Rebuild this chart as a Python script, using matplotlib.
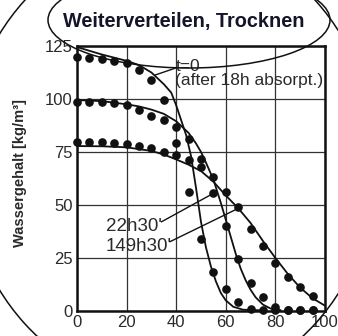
"""
Weiterverteilen, Trocknen: Wassergehaltsprofile (Messpunkte + Rechnung).
"""

import matplotlib
matplotlib.use("Agg")
import matplotlib.pyplot as plt
from matplotlib.patches import Ellipse

plt.rcParams["font.family"] = ["Liberation Sans", "DejaVu Sans"]

# ---------------------------------------------------------------------------
# Daten
# ---------------------------------------------------------------------------
titel = "Weiterverteilen, Trocknen"
y_titel = "Wassergehalt [kg/m³]"
x_ticks = [0, 20, 40, 60, 80, 100]
y_ticks = [0, 25, 50, 75, 100, 125]

x_mess = [0, 5, 10, 15, 20, 25, 30, 35, 40, 45, 50, 55, 60, 65, 70, 75, 80, 85, 90, 95]
mess_t0 = [119.7, 119.2, 118.7, 117.9, 116.8, 113.7, 109.0, 99.5, 79.4, 56.3,
           33.8, 18.5, 10.5, 4.4, 1.0, 0.5, 0.3, 0.5, 0.5, 0.5]
mess_22h = [98.7, 98.7, 98.4, 98.0, 97.2, 94.8, 92.0, 90.0, 86.6, 81.0,
            71.5, 55.5, 40.1, 24.4, 13.0, 6.8, 2.0, 0.5, 0.5, 0.5]
mess_149h = [79.9, 79.9, 79.9, 79.4, 79.0, 77.8, 76.7, 75.0, 73.4, 71.0,
             67.8, 63.0, 56.0, 48.9, 38.8, 30.5, 22.5, 16.2, 11.3, 6.9]

x_rech_t0 = [0, 10, 20, 25, 30, 35, 38, 40, 42, 44, 46, 48, 50, 52, 54, 56, 58, 60, 63, 67, 75]
rech_t0 = [124.5, 121.0, 118.0, 116.0, 112.5, 107.0, 103.0, 97.0, 90.0, 83.0, 73.0,
           58.0, 42.0, 30.0, 21.0, 14.0, 8.5, 5.0, 2.0, 0.6, 0.3]
x_rech_22h = [0, 10, 20, 25, 30, 35, 40, 45, 48, 50, 52, 55, 58, 60, 62, 64, 66, 68,
              70, 72, 75, 78, 82]
rech_22h = [99.5, 99.0, 97.5, 96.5, 95.0, 93.0, 89.5, 84.0, 79.0, 75.0, 70.0, 62.0,
            51.0, 43.0, 35.0, 27.0, 20.0, 14.5, 10.0, 6.5, 3.0, 1.2, 0.4]
x_rech_149h = [0, 10, 20, 30, 35, 40, 45, 50, 55, 60, 65, 70, 75, 80, 85, 90, 95, 100]
rech_149h = [77.8, 77.7, 77.2, 75.5, 73.8, 71.5, 69.0, 66.0, 61.0, 54.5, 48.5, 41.5,
             33.0, 25.0, 17.5, 11.0, 6.0, 2.5]

# ---------------------------------------------------------------------------
# Figur
# ---------------------------------------------------------------------------
TINTE = "#111111"
TEXT = "#2a2a2a"

fig = plt.figure(figsize=(3.38, 3.36), dpi=100, facecolor="white")
ax = fig.add_axes([77 / 338, 1 - 311 / 336, 248 / 338, 265 / 336])

ax.plot(x_rech_t0, rech_t0, color=TINTE, linewidth=1.3)
ax.plot(x_rech_22h, rech_22h, color=TINTE, linewidth=1.3)
ax.plot(x_rech_149h, rech_149h, color=TINTE, linewidth=1.3)
for serie in (mess_t0, mess_22h, mess_149h):
    ax.plot(x_mess, serie, "o", color=TINTE, markersize=5.2, clip_on=False, zorder=4)

ax.set_xlim(0, 100)
ax.set_ylim(0, 125)
ax.set_xticks(x_ticks)
ax.set_yticks(y_ticks)
ax.tick_params(length=0, labelsize=12, labelcolor=TEXT, pad=3)
ax.grid(True, color="#333333", linewidth=0.9)
ax.set_axisbelow(True)
for seite in ax.spines.values():
    seite.set_linewidth(1.8)
    seite.set_color(TINTE)

# Beschriftungen mit Hinweislinien
ax.plot([31.5, 39.5], [111.3, 114.5], color=TINTE, linewidth=1.0)
ax.text(39.8, 113.2, "t=0", fontsize=12.5, color=TEXT, va="baseline")
ax.text(39.6, 106.6, "(after 18h absorpt.)", fontsize=12.5, color=TEXT, va="baseline")
ax.plot([34.1, 55], [42.1, 55.5], color=TINTE, linewidth=1.0)
ax.text(11.7, 37.9, "22h30'", fontsize=13.5, color=TEXT, va="baseline")
ax.plot([37.5, 65], [32.7, 48.4], color=TINTE, linewidth=1.0)
ax.text(11.7, 28.4, "149h30'", fontsize=13.5, color=TEXT, va="baseline")

fig.text(20 / 338, 1 - 173 / 336, y_titel, rotation=90, fontsize=10.5, fontweight="bold",
         color=TEXT, ha="center", va="center")
fig.text(184 / 338, 1 - 21 / 336, titel, fontsize=14.3, fontweight="bold",
         color="#15152a", ha="center", va="center")

# Handgezeichnete Ellipsen (Pixelkoordinaten)
oben = fig.add_axes([0, 0, 1, 1], facecolor="none")
oben.set_xlim(0, 338)
oben.set_ylim(336, 0)
oben.axis("off")
oben.add_patch(Ellipse((170, 162), 412, 456, fill=False, edgecolor=TINTE, linewidth=1.1))
oben.add_patch(Ellipse((189, 20), 282, 96, fill=False, edgecolor=TINTE, linewidth=1.1))

fig.savefig("out.png", dpi=100, facecolor="white")
